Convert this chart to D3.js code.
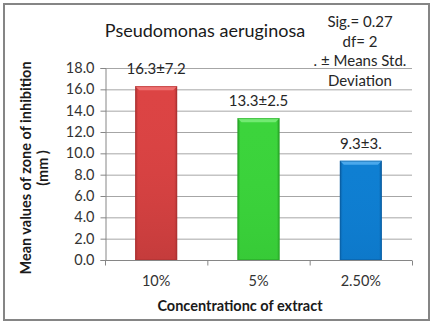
<!DOCTYPE html>
<html><head><meta charset="utf-8">
<script src="https://cdn.jsdelivr.net/npm/d3@7"></script>
<style>
html,body{margin:0;padding:0;background:#fff;}
svg{display:block;}
text{font-family:Lato,"Open Sans",sans-serif;}
</style></head>
<body>
<script>
const categories = ["10%", "5%", "2.50%"];
const values = [16.3, 13.3, 9.3];
const valueLabels = ["16.3±7.2", "13.3±2.5", "9.3±3."];
const yTicks = [0, 2, 4, 6, 8, 10, 12, 14, 16, 18];
const title = "Pseudomonas aeruginosa";
const notes = ["Sig.= 0.27", "df= 2", ". ± Means Std.", "Deviation"];
const yLabel = ["Mean values of zone of inhibition", "(mm )"];
const xLabel = "Concentrationc of extract";
const barColors = [
  {main:"#dc4444", light:"#ee7070", dark:"#a83030", bottom:"#b53636"},
  {main:"#3cd43c", light:"#72ea72", dark:"#24a024", bottom:"#34c434"},
  {main:"#0f7fd2", light:"#4aa8ec", dark:"#0a5a9c", bottom:"#0c74c4"}
];

const W = 435, H = 325;
const svg = d3.select("body").append("svg").attr("width", W).attr("height", H);
const defs = svg.append("defs");

// frame
svg.append("rect").attr("x",4).attr("y",4).attr("width",425).attr("height",316)
  .attr("fill","#fff").attr("stroke","#858585").attr("stroke-width",2);

const m = {left:105, right:412, top:68, bottom:260};
const x = d3.scaleBand().domain(categories).range([m.left, m.right]).paddingInner(0.59).paddingOuter(0.295);
const y = d3.scaleLinear().domain([0, 18]).range([m.bottom, m.top]);

// gridlines
svg.append("g").selectAll("line").data(yTicks.filter(d=>d>0)).join("line")
  .attr("x1", m.left).attr("x2", m.right)
  .attr("y1", d=>y(d)+0.5).attr("y2", d=>y(d)+0.5)
  .attr("stroke","#a6a6a6").attr("stroke-width",1);

// y axis
const yAxis = svg.append("g").attr("transform",`translate(${m.left+0.5},0)`)
  .call(d3.axisLeft(y).tickValues(yTicks).tickFormat(d3.format(".1f")).tickSize(5).tickPadding(6));
yAxis.select(".domain").attr("stroke","#868686");
yAxis.selectAll(".tick line").attr("stroke","#868686");
yAxis.selectAll(".tick text").attr("font-size",14.5).attr("fill","#333").attr("font-family","Lato");

// bars
const bars = svg.append("g");
values.forEach((v,i)=>{
  const c = barColors[i];
  const gid = "g"+i, vid = "v"+i;
  const gh = defs.append("linearGradient").attr("id",gid).attr("x1",0).attr("x2",1).attr("y1",0).attr("y2",0);
  gh.append("stop").attr("offset","0%").attr("stop-color",c.dark);
  gh.append("stop").attr("offset","7%").attr("stop-color",c.main);
  gh.append("stop").attr("offset","93%").attr("stop-color",c.main);
  gh.append("stop").attr("offset","100%").attr("stop-color",c.dark);
  const gv = defs.append("linearGradient").attr("id",vid).attr("x1",0).attr("x2",0).attr("y1",0).attr("y2",1);
  gv.append("stop").attr("offset","0%").attr("stop-color",c.main).attr("stop-opacity",0);
  gv.append("stop").attr("offset","100%").attr("stop-color",c.bottom).attr("stop-opacity",0.6);
  const bx = x(categories[i]), bw = x.bandwidth(), by = y(v), bh = y(0)-y(v);
  bars.append("rect").attr("x",bx).attr("y",by).attr("width",bw).attr("height",bh).attr("fill",`url(#${gid})`);
  bars.append("rect").attr("x",bx).attr("y",by).attr("width",bw).attr("height",bh).attr("fill",`url(#${vid})`);
  // top bevel
  bars.append("path").attr("d",`M${bx},${by} L${bx+bw},${by} L${bx+bw-4},${by+4} L${bx+4},${by+4} Z`)
    .attr("fill",c.light);
  bars.append("rect").attr("x",bx+0.5).attr("y",by+0.5).attr("width",bw-1).attr("height",bh-1)
    .attr("fill","none").attr("stroke",c.dark).attr("stroke-opacity",0.5).attr("stroke-width",1);
  // label
  svg.append("text").attr("x",bx+bw/2).attr("y",by-12).attr("text-anchor","middle")
    .attr("font-size",15).attr("fill","#262626").text(valueLabels[i]);
});

// x axis
const xAxis = svg.append("g").attr("transform",`translate(0,${m.bottom+0.5})`)
  .call(d3.axisBottom(x).tickSize(0).tickPadding(15));
xAxis.select(".domain").attr("stroke","#868686").attr("d",`M${m.left},0H${m.right}`);
xAxis.selectAll(".tick text").attr("font-size",14.5).attr("fill","#333").attr("font-family","Lato");
// band boundary ticks
const bounds = categories.map(c=>x(c)-x.step()*x.paddingInner()/2).concat([m.right]);
bounds[0] = m.left;
xAxis.append("g").selectAll("line").data(bounds).join("line")
  .attr("x1",d=>d+0.5).attr("x2",d=>d+0.5).attr("y1",0).attr("y2",5).attr("stroke","#868686");

// title
svg.append("text").attr("x",205).attr("y",37).attr("text-anchor","middle")
  .attr("font-size",18).attr("fill","#1a1a1a").text(title);

// notes
const noteY = [27, 47, 66, 86];
notes.forEach((t,i)=>{
  svg.append("text").attr("x",360).attr("y",noteY[i]).attr("text-anchor","middle")
    .attr("font-size",15).attr("fill","#262626").text(t);
});

// y label
const yl = svg.append("g").attr("transform",`translate(31,168) rotate(-90)`);
yl.append("text").attr("x",0).attr("y",0).attr("text-anchor","middle")
  .attr("font-size",14.5).attr("font-weight","bold").attr("fill","#1a1a1a").text(yLabel[0]);
yl.append("text").attr("x",0).attr("y",17).attr("text-anchor","middle")
  .attr("font-size",14.5).attr("font-weight","bold").attr("fill","#1a1a1a").text(yLabel[1]);

// x label
svg.append("text").attr("x",240).attr("y",311).attr("text-anchor","middle")
  .attr("font-size",14.5).attr("font-weight","bold").attr("fill","#1a1a1a").text(xLabel);
</script>
</body></html>
